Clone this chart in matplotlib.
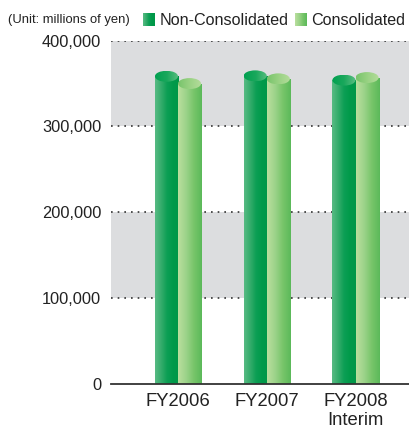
import numpy as np
import matplotlib
matplotlib.use("Agg")
import matplotlib.pyplot as plt
from matplotlib.patches import Ellipse
from matplotlib.colors import LinearSegmentedColormap

plt.rcParams['font.family'] = ['Liberation Sans', 'DejaVu Sans']

# Net sales (millions of yen)
categories = ["FY2006", "FY2007", "FY2008\nInterim"]
non_consolidated = [358500, 359000, 354000]
consolidated = [350000, 355500, 357000]
series_names = ["Non-Consolidated", "Consolidated"]
y_ticks = [0, 100000, 200000, 300000, 400000]
y_tick_labels = ["0", "100,000", "200,000", "300,000", "400,000"]

# colour ramps (left -> right across the cylinder)
nc_body = LinearSegmentedColormap.from_list("nc_body", ["#58bb84", "#36ad6c", "#0d9f55", "#009a4a", "#009748"])
nc_top = LinearSegmentedColormap.from_list("nc_top", ["#00a050", "#1aa85c", "#5cbe82"])
c_body = LinearSegmentedColormap.from_list("c_body", ["#badf9e", "#9dd38a", "#77c56a", "#5bb95a"])
c_top = LinearSegmentedColormap.from_list("c_top", ["#78c46b", "#9ad284", "#b6dd9c"])

fig = plt.figure(figsize=(4.10, 4.28), dpi=100)
ax = fig.add_axes([111/410, 44.3/428, 299/410, 343/428])

x = np.arange(len(categories))
w = 0.26
top_h = 12800  # height of the elliptical cap in data units

XMIN, XMAX = -0.755, 2.614
YMIN, YMAX = 0, 400000

# gray bands and dotted gridlines
for lo, hi in [(100000, 200000), (300000, 400000)]:
    ax.axhspan(lo, hi, color="#dcdddf", zorder=0, lw=0)
for yv in y_ticks[1:]:
    ax.axhline(yv, color="#333333", lw=1.2, ls=(0, (1, 3)), zorder=1)

grad = np.linspace(0, 1, 256).reshape(1, -1)


def cylinder(xc, val, body_cmap, top_cmap):
    bar = ax.bar(xc, val, width=w, facecolor="none", edgecolor="none", zorder=3)[0]
    im = ax.imshow(grad, cmap=body_cmap, aspect="auto", zorder=3,
                   extent=(xc - w/2, xc + w/2, 0, val), interpolation="bilinear")
    im.set_clip_path(bar)
    cap = Ellipse((xc, val), w, top_h, facecolor="none", edgecolor="none", zorder=4)
    ax.add_patch(cap)
    im2 = ax.imshow(grad, cmap=top_cmap, aspect="auto", zorder=4,
                    extent=(xc - w/2, xc + w/2, val - top_h/2, val + top_h/2),
                    interpolation="bilinear")
    im2.set_clip_path(cap)


for i in range(len(categories)):
    cylinder(x[i] - w/2, non_consolidated[i], nc_body, nc_top)
    cylinder(x[i] + w/2, consolidated[i], c_body, c_top)

ax.set_xlim(XMIN, XMAX)
ax.set_ylim(YMIN, YMAX)

for s in ["top", "right", "left"]:
    ax.spines[s].set_visible(False)
ax.spines["bottom"].set_color("#333333")
ax.spines["bottom"].set_linewidth(1.3)
ax.spines["bottom"].set_zorder(5)

ax.set_yticks(y_ticks)
ax.set_yticklabels(y_tick_labels, fontsize=11.8, color="#222222")
ax.tick_params(axis="y", length=0, pad=7)
ax.set_xticks(x)
ax.set_xticklabels(categories, fontsize=13.3, color="#222222", linespacing=1.1)
ax.tick_params(axis="x", length=0, pad=7)

# header: unit note and legend
fig.text(8/410, 1 - 20/428, "(Unit: millions of yen)", fontsize=9.4, color="#222222",
         ha="left", va="center")
legend_items = [(143, 160, series_names[0], nc_body), (295, 311, series_names[1], c_body)]
for sx, tx, label, cmap in legend_items:
    sq = fig.add_axes([sx/410, 1 - 26/428, 12/410, 13/428])
    sq.imshow(grad, cmap=cmap, aspect="auto")
    sq.set_axis_off()
    fig.text(tx/410, 1 - 20.5/428, label, fontsize=11.6, color="#222222",
             ha="left", va="center")

fig.savefig("out.png", dpi=100)
